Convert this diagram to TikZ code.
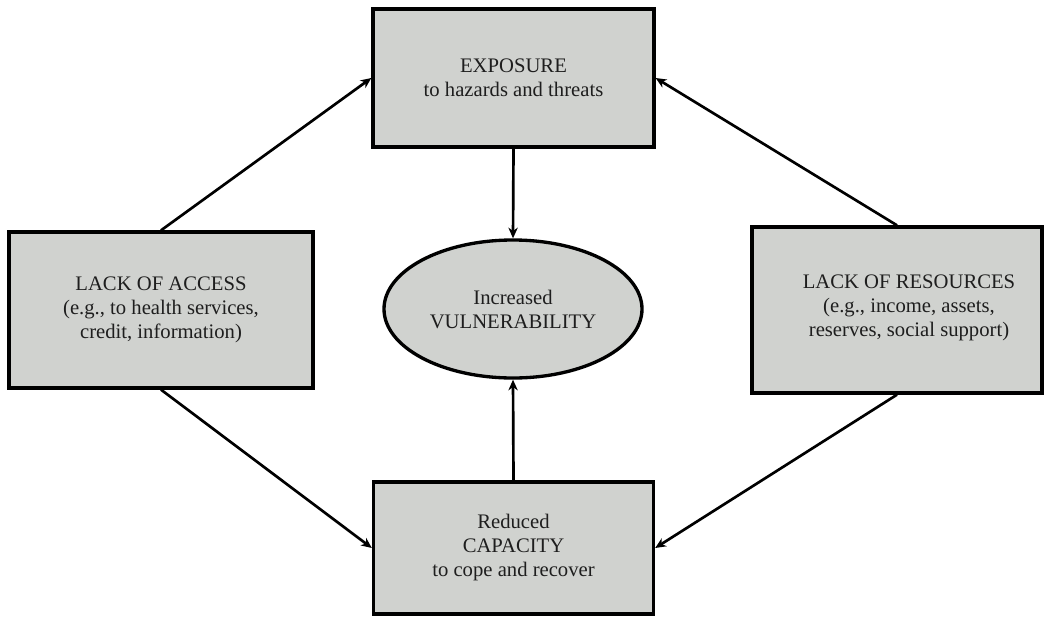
\documentclass[tikz,border=0pt]{standalone}
\usepackage{fontspec}
\setmainfont{Liberation Serif}
\usetikzlibrary{arrows.meta,shapes.geometric}
\definecolor{boxgray}{RGB}{208,210,207}
\definecolor{ink}{RGB}{30,30,30}
\begin{document}
\begin{tikzpicture}[x=0.75pt,y=-0.75pt,
  box/.style={draw=black, line width=2.5pt, fill=boxgray, rectangle, inner sep=0pt,
    align=center, text=ink, font=\fontsize{15.5}{18}\selectfont},
  oval/.style={draw=black, line width=2.5pt, fill=boxgray, ellipse, inner sep=0pt,
    align=center, text=ink, font=\fontsize{15.5}{18}\selectfont},
  txt/.style={align=center, inner sep=0pt, text=ink, font=\fontsize{15.5}{18}\selectfont},
  conn/.style={line width=2pt, -{Stealth[length=8pt,width=7pt,inset=2.5pt]}}]
\useasboundingbox (0,0) rectangle (1044,617);
\node[box, minimum width=210.75pt, minimum height=103.5pt] (exp) at (513.5,78)
  {EXPOSURE\\to hazards and threats};
\node[box, minimum width=228pt, minimum height=117pt] (acc) at (161,310)
  {LACK OF ACCESS\\(e.g., to health services,\\credit, information)};
\node[box, minimum width=217.5pt, minimum height=124.5pt] (res) at (897,310) {};
\node[txt] (restext) at (909,308)
  {LACK OF RESOURCES\\(e.g., income, assets,\\reserves, social support)};
\node[box, minimum width=210pt, minimum height=99pt] (cap) at (513.5,548)
  {Reduced\\CAPACITY\\to cope and recover};
\node[oval, minimum width=193.5pt, minimum height=103.5pt] (vul) at (513,309)
  {Increased\\VULNERABILITY};
\draw[conn] (acc.north) -- (exp.west);
\draw[conn] (res.north) -- (exp.east);
\draw[conn] (acc.south) -- (cap.west);
\draw[conn] (res.south) -- (cap.east);
\draw[conn] (exp.south) -- (vul.north);
\draw[conn] (cap.north) -- (vul.south);
\end{tikzpicture}
\end{document}
